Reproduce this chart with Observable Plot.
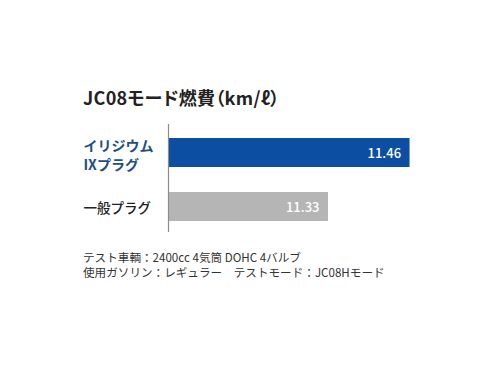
<!DOCTYPE html>
<html lang="ja">
<head>
<meta charset="utf-8">
<script src="https://cdn.jsdelivr.net/npm/d3@7"></script>
<script src="https://cdn.jsdelivr.net/npm/@observablehq/plot@0.6"></script>
<style>
  html, body { margin: 0; padding: 0; background: #fff; }
  body { font-family: "Noto Sans CJK JP", "Noto Sans", sans-serif; }
  #wrap { position: relative; width: 490px; height: 368px; overflow: hidden; }
  #title {
    position: absolute; left: 83px; top: 88px;
    font-size: 18px; line-height: 18px; font-weight: 700; color: #222;
    font-feature-settings: "palt"; letter-spacing: 0.3px; white-space: nowrap;
  }
  #chart { position: absolute; left: 0; top: 122px; }
  #note {
    position: absolute; left: 83px; top: 250px;
    font-size: 11.6px; line-height: 15px; color: #333; white-space: pre;
  }
</style>
</head>
<body>
<div id="wrap">
  <div id="title">JC08モード燃費（km/ℓ）</div>
  <div id="chart"></div>
  <div id="note"></div>
</div>
<script>
// Fuel economy per spark plug (JC08 mode, km/ℓ)
const plugs = ["イリジウムIXプラグ", "一般プラグ"];
const plugLabels = ["イリジウム\nIXプラグ", "一般プラグ"];
const economy = [11.46, 11.33];
const barColors = ["#0b4ea2", "#b5b5b5"];
const notes = [
  "テスト車輌：2400cc 4気筒 DOHC 4バルブ",
  "使用ガソリン：レギュラー　テストモード：JC08Hモード"
];

// The value axis is cut: bars grow from this baseline
const axisMin = 11.075;
const axisMax = 11.55;

const rows = plugs.map((p, i) => ({
  plug: p, label: plugLabels[i], value: economy[i], color: barColors[i]
}));

const chart = Plot.plot({
  width: 490,
  height: 110,
  marginTop: 2,
  marginBottom: 0,
  marginLeft: 168,
  marginRight: 24,
  style: { fontFamily: "'Noto Sans CJK JP', sans-serif", background: "transparent" },
  x: { domain: [axisMin, axisMax], range: [168, 466], axis: null },
  y: { domain: plugs, range: [15.5, 100], paddingInner: 0.4636, paddingOuter: 0, axis: null },
  marks: [
    Plot.barX(rows, { y: "plug", x1: () => axisMin, x2: "value", fill: "color" }),
    Plot.ruleX([axisMin], { stroke: "#8c8c8c", strokeWidth: 1.2 }),
    Plot.text(rows, {
      y: "plug", x: "value", text: d => d.value.toFixed(2),
      textAnchor: "end", dx: -9, dy: 1, fill: "#fff",
      fontSize: 13, fontWeight: 500
    }),
    Plot.text(rows.filter((d, i) => i === 0), {
      y: "plug", x: () => axisMin, text: "label",
      textAnchor: "start", dx: -85, dy: 1, lineHeight: 1.36,
      fill: "#1d4f86", fontSize: 14, fontWeight: 700
    }),
    Plot.text(rows.filter((d, i) => i === 1), {
      y: "plug", x: () => axisMin, text: "label",
      textAnchor: "start", dx: -85, dy: 2,
      fill: "#222", fontSize: 13.5, fontWeight: 500
    })
  ]
});
document.getElementById("chart").appendChild(chart);
document.getElementById("note").textContent = notes.join("\n");
</script>
</body>
</html>
